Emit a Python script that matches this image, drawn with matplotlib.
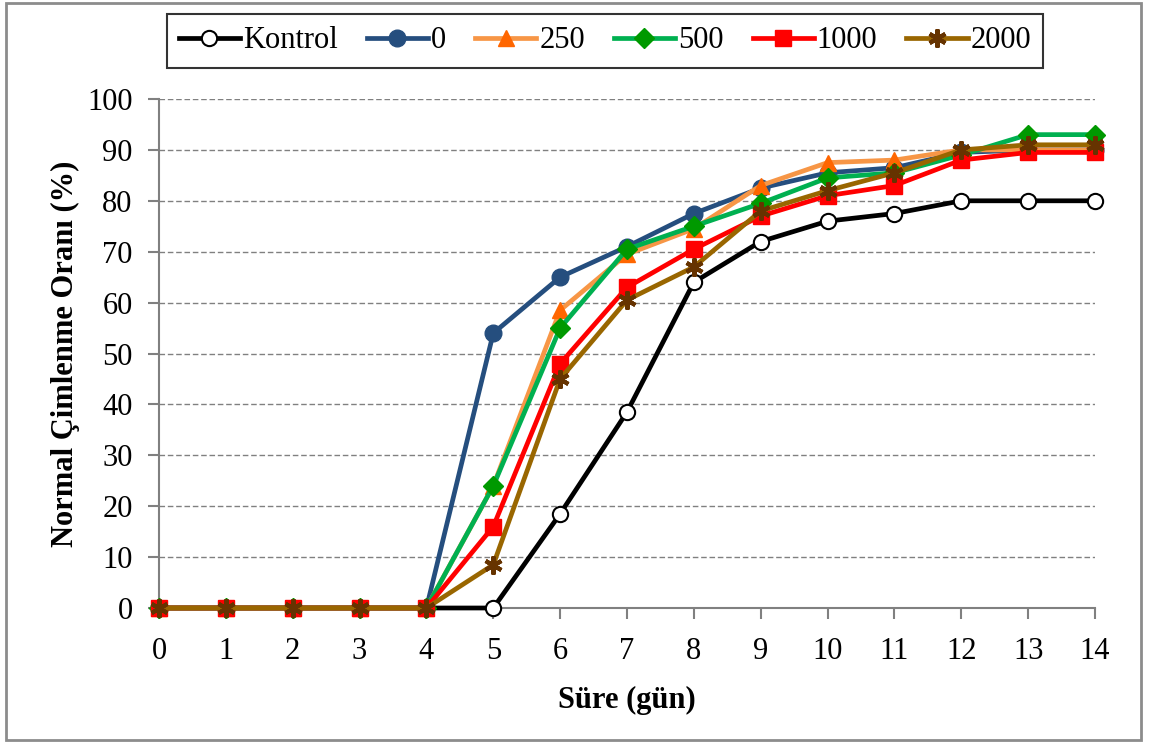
import numpy as np
import matplotlib
matplotlib.use("Agg")
import matplotlib.pyplot as plt
from matplotlib.patches import Rectangle

plt.rcParams['font.family'] = ['Liberation Serif', 'DejaVu Serif']

""" DATA """
days = list(range(15))
labels = ["Kontrol", "0", "250", "500", "1000", "2000"]

kontrol = [0, 0, 0, 0, 0, 0, 18.5, 38.5, 64, 72, 76, 77.5, 80, 80, 80]
doz_0 = [0, 0, 0, 0, 0, 54, 65, 71, 77.5, 82.5, 85.5, 86.5, 89.5, 90, 90]
doz_250 = [0, 0, 0, 0, 0, 24, 58.5, 69.5, 74.5, 83, 87.5, 88, 90, 90, 90]
doz_500 = [0, 0, 0, 0, 0, 24, 55, 70.5, 75, 79.5, 84.5, 85.5, 89, 93, 93]
doz_1000 = [0, 0, 0, 0, 0, 16, 48, 63, 70.5, 77, 81, 83, 88, 89.5, 89.5]
doz_2000 = [0, 0, 0, 0, 0, 8.5, 45, 60.5, 67, 78, 82, 85.5, 90, 91, 91]

series = [kontrol, doz_0, doz_250, doz_500, doz_1000, doz_2000]

""" STYLES """
line_colors = ["#000000", "#254E7E", "#F79646", "#00B050", "#FF0000", "#996600"]
marker_faces = ["white", "#254E7E", "#FF6600", "#009900", "#FF0000", "#663300"]
marker_edges = ["#000000", "#254E7E", "#FF6600", "#009900", "#FF0000", "#663300"]
markers = ["o", "o", "^", "D", "s", (6, 2, 0)]
msizes = [11, 12, 12, 10, 12, 13]
mews = [1.5, 1, 1, 1, 1, 3]

fig = plt.figure(figsize=(11.49, 7.44), dpi=100)
ax = fig.add_axes([159/1149, 1 - 608/744, (1095 - 159)/1149, (608 - 99)/744])

for vals, lab, lc, mf, me, mk, ms, mw in zip(series, labels, line_colors,
                                             marker_faces, marker_edges,
                                             markers, msizes, mews):
    ax.plot(days, vals, "-", color=lc, lw=3.4, marker=mk, ms=ms,
            markerfacecolor=mf, markeredgecolor=me, markeredgewidth=mw,
            label=lab, clip_on=False, zorder=3)

ax.set_xlim(0, 14)
ax.set_ylim(0, 100)
ax.set_xticks(range(15))
ax.set_yticks(range(0, 101, 10))
ax.yaxis.grid(True, linestyle=(0, (4, 2)), color="#808080", lw=1)
ax.set_axisbelow(True)

for s in ["top", "right"]:
    ax.spines[s].set_visible(False)
for s in ["left", "bottom"]:
    ax.spines[s].set_color("#808080")
    ax.spines[s].set_linewidth(1.5)
ax.tick_params(axis="both", colors="#808080", length=8, width=1.5,
               labelsize=22, labelcolor="black", direction="out")
ax.tick_params(axis="x", pad=13)
ax.tick_params(axis="y", pad=11)

ax.set_xlabel("Süre (gün)", fontsize=22, fontweight="bold", labelpad=14)
ax.set_ylabel("Normal Çimlenme Oranı (%)", fontsize=22, fontweight="bold",
              labelpad=5)

leg = fig.legend(loc="center", bbox_to_anchor=(605/1149, 1 - 41/744), ncol=6,
                 fontsize=22, frameon=True, fancybox=False, handlelength=2.0,
                 handletextpad=0.1, columnspacing=0.95, borderpad=0.4)
leg.get_frame().set_edgecolor("black")
leg.get_frame().set_linewidth(1.5)

# outer chart border
fig.patches.append(Rectangle((6/1149, 4/744), 1135/1149, 737/744,
                             transform=fig.transFigure, fill=False,
                             edgecolor="#8c8c8c", lw=2))

fig.savefig("out.png", dpi=100)
